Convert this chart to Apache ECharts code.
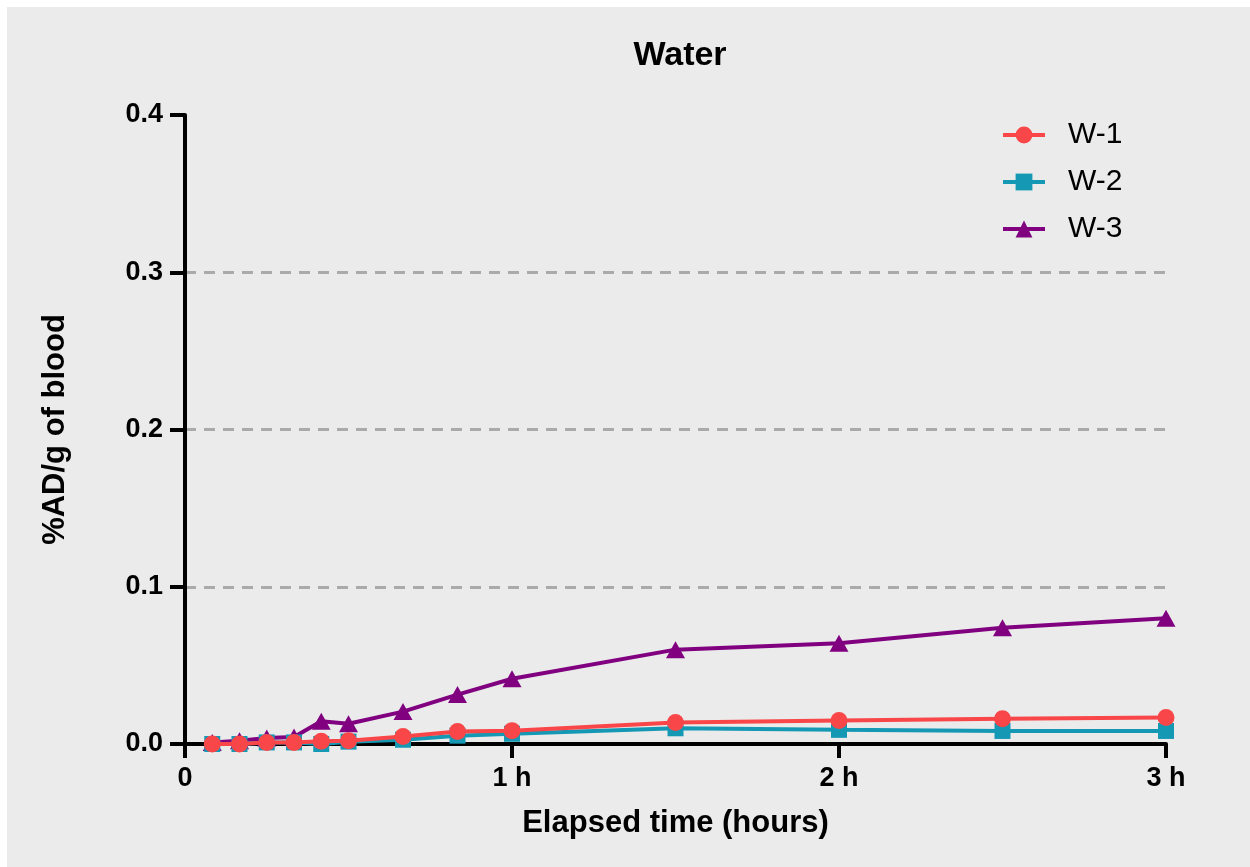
<!DOCTYPE html>
<html>
<head>
<meta charset="utf-8">
<script src="https://cdn.jsdelivr.net/npm/echarts@6/dist/echarts.min.js"></script>
<style>html,body{margin:0;padding:0;background:#fff;}#c{width:1250px;height:867px;}</style>
</head>
<body>
<div id="c"></div>
<script>
// Elapsed time in hours
const times = [5/60, 10/60, 15/60, 20/60, 25/60, 30/60, 40/60, 50/60, 1, 1.5, 2, 2.5, 3];
const w1 = [0.000, 0.000, 0.001, 0.001, 0.0017, 0.002, 0.0048, 0.008, 0.0085, 0.0137, 0.015, 0.016, 0.0169];
const w2 = [0.000, 0.000, 0.001, 0.001, 0.000, 0.0015, 0.0027, 0.0053, 0.0065, 0.010, 0.009, 0.0083, 0.0083];
const w3 = [0.001, 0.002, 0.0038, 0.0045, 0.0145, 0.0129, 0.0206, 0.0314, 0.0415, 0.060, 0.064, 0.074, 0.080];
const seriesNames = ['W-1', 'W-2', 'W-3'];
const xTickLabels = ['0', '1 h', '2 h', '3 h'];

const pair = (ys) => times.map((t, i) => [t, ys[i]]);
const FONT = '"Liberation Sans", Arial, sans-serif';

const chart = echarts.init(document.getElementById('c'));
chart.setOption({
  animation: false,
  backgroundColor: '#ffffff',
  graphic: [{
    type: 'rect', z: -10, silent: true,
    shape: { x: 7, y: 7, width: 1243, height: 860 },
    style: { fill: '#ebebeb' }
  }],
  title: {
    text: 'Water', left: 675, top: 34, textAlign: 'center',
    textStyle: { fontFamily: FONT, fontWeight: 'bold', fontSize: 34, color: '#000' }
  },
  legend: {
    left: 996, top: 115, orient: 'vertical', itemWidth: 42, itemHeight: 21, itemGap: 17,
    lineStyle: { width: 4 },
    textStyle: { fontFamily: FONT, fontSize: 30, color: '#000', padding: [0, 0, 0, 18] },
    data: seriesNames
  },
  grid: { left: 185, right: 84, top: 115, bottom: 123, containLabel: false },
  xAxis: {
    type: 'value', min: 0, max: 3, interval: 1,
    name: 'Elapsed time (hours)', nameLocation: 'middle', nameGap: 64,
    nameTextStyle: { fontFamily: FONT, fontWeight: 'bold', fontSize: 31, color: '#000' },
    axisLine: { show: true, onZero: false, lineStyle: { color: '#000', width: 4 } },
    axisTick: { show: true, length: 14, lineStyle: { color: '#000', width: 4 } },
    axisLabel: {
      fontFamily: FONT, fontWeight: 'bold', fontSize: 27, color: '#000', margin: 21,
      formatter: (v) => xTickLabels[Math.round(v)]
    },
    splitLine: { show: false }
  },
  yAxis: {
    type: 'value', min: 0, max: 0.4, interval: 0.1,
    name: '%AD/g of blood', nameLocation: 'middle', nameGap: 114, nameRotate: 90,
    nameTextStyle: { fontFamily: FONT, fontWeight: 'bold', fontSize: 31, color: '#000' },
    axisLine: { show: true, lineStyle: { color: '#000', width: 4 } },
    axisTick: { show: true, length: 15, lineStyle: { color: '#000', width: 4 } },
    axisLabel: {
      fontFamily: FONT, fontWeight: 'bold', fontSize: 27, color: '#000', margin: 22,
      formatter: (v) => v.toFixed(1)
    },
    splitLine: {
      show: true,
      lineStyle: { color: ['rgba(0,0,0,0)', '#aaaaaa', '#aaaaaa', '#aaaaaa', 'rgba(0,0,0,0)'], width: 3, type: [11, 8] }
    }
  },
  series: [
    {
      name: 'W-1', type: 'line', data: pair(w1), z: 5,
      symbol: 'circle', symbolSize: 17, showAllSymbol: true,
      lineStyle: { color: '#f94648', width: 4 }, itemStyle: { color: '#f94648' }
    },
    {
      name: 'W-2', type: 'line', data: pair(w2), z: 4,
      symbol: 'rect', symbolSize: 16, showAllSymbol: true,
      lineStyle: { color: '#1598b4', width: 4 }, itemStyle: { color: '#1598b4' }
    },
    {
      name: 'W-3', type: 'line', data: pair(w3), z: 3,
      symbol: 'triangle', symbolSize: [19, 17], showAllSymbol: true,
      lineStyle: { color: '#800080', width: 4 }, itemStyle: { color: '#800080' }
    }
  ]
});
</script>
</body>
</html>
